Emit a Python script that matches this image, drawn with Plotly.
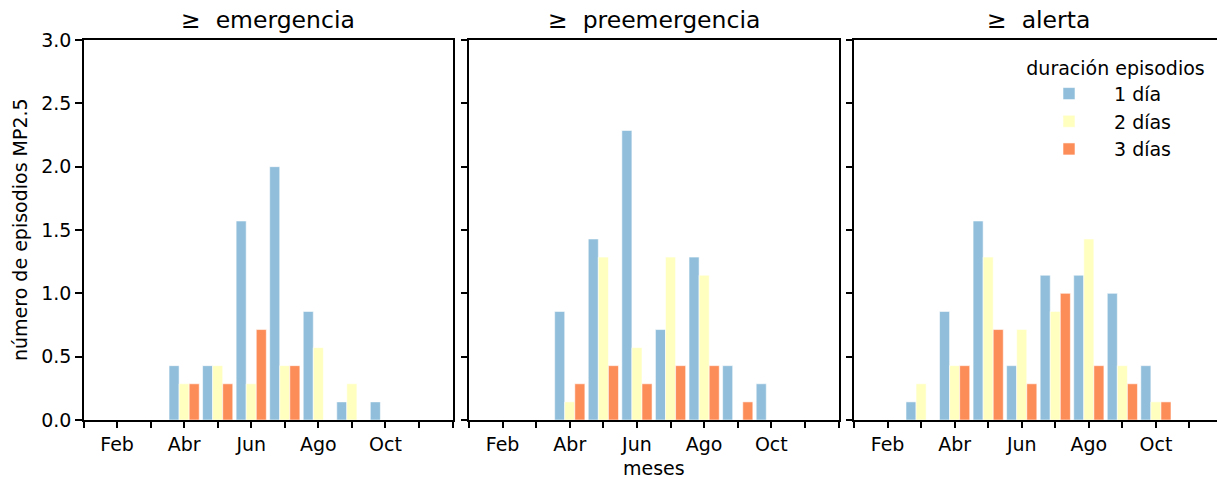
import plotly.graph_objects as go

W, H = 1217, 479

months = [3, 4, 5, 6, 7, 8, 9, 10]
tick_vals = [1, 2, 3, 4, 5, 6, 7, 8, 9, 10, 11, 12]
tick_text = ["", "Feb", "", "Abr", "", "Jun", "", "Ago", "", "Oct", "", ""]
y_tick_vals = [0, 0.5, 1.0, 1.5, 2.0, 2.5, 3.0]
y_tick_text = ["0.0", "0.5", "1.0", "1.5", "2.0", "2.5", "3.0"]

panel_titles = ["≥\u00a0\u00a0emergencia", "≥\u00a0\u00a0preemergencia", "≥\u00a0\u00a0alerta"]
series_names = ["1 día", "2 días", "3 días"]
colors = ["#91bfdb", "#ffffbf", "#fc8d59"]

# emergencia
emerg_1 = [0.0, 0.429, 0.429, 1.571, 2.0, 0.857, 0.143, 0.143]
emerg_2 = [0.0, 0.286, 0.429, 0.286, 0.429, 0.571, 0.286, 0.0]
emerg_3 = [0.0, 0.286, 0.286, 0.714, 0.429, 0.0, 0.0, 0.0]
# preemergencia
pre_1 = [0.0, 0.857, 1.429, 2.286, 0.714, 1.286, 0.429, 0.286]
pre_2 = [0.0, 0.143, 1.286, 0.571, 1.286, 1.143, 0.0, 0.0]
pre_3 = [0.0, 0.286, 0.429, 0.286, 0.429, 0.429, 0.143, 0.0]
# alerta
alert_1 = [0.143, 0.857, 1.571, 0.429, 1.143, 1.143, 1.0, 0.429]
alert_2 = [0.286, 0.429, 1.286, 0.714, 0.857, 1.429, 0.429, 0.143]
alert_3 = [0.0, 0.429, 0.714, 0.286, 1.0, 0.429, 0.286, 0.143]

panels = [
    [emerg_1, emerg_2, emerg_3],
    [pre_1, pre_2, pre_3],
    [alert_1, alert_2, alert_3],
]

FONT = "DejaVu Sans"
FS = 19
TITLE_FS = 23.5

fig = go.Figure()

x_domains = [
    [83.5 / W, 452.5 / W],
    [469.0 / W, 838.5 / W],
    [854.0 / W, 1.0],
]
y_domain = [(H - 420) / H, (H - 40) / H]
px_per_month = (452.5 - 83.5) / 11.0
x_ranges = [
    [1, 12],
    [1, 12],
    [1, 1 + (W - 854.0) / px_per_month],
]

for p, series in enumerate(panels):
    xa = "x" if p == 0 else f"x{p+1}"
    ya = "y" if p == 0 else f"y{p+1}"
    for s, vals in enumerate(series):
        fig.add_trace(go.Bar(
            x=months, y=vals, name=series_names[s],
            marker=dict(color=colors[s], line=dict(color="rgba(255,255,255,0.7)", width=0.8)),
            xaxis=xa, yaxis=ya,
            showlegend=(p == 2),
            legendgroup=series_names[s],
        ))

axis_common = dict(
    showline=True, linecolor="black", linewidth=1.5,
    ticks="outside", ticklen=6.5, tickwidth=1.5, tickcolor="black",
    showgrid=False, zeroline=False, automargin=False,
    tickfont=dict(family=FONT, size=FS, color="black"),
)

layout = dict(
    template="none",
    width=W, height=H,
    margin=dict(l=0, r=0, t=0, b=0, pad=0),
    paper_bgcolor="white", plot_bgcolor="white",
    barmode="group", bargap=0.1, bargroupgap=0.0,
    font=dict(family=FONT, size=FS, color="black"),
)

for p in range(3):
    xk = "xaxis" if p == 0 else f"xaxis{p+1}"
    yk = "yaxis" if p == 0 else f"yaxis{p+1}"
    ya_ref = "y" if p == 0 else f"y{p+1}"
    xa_ref = "x" if p == 0 else f"x{p+1}"
    layout[xk] = dict(
        axis_common, domain=x_domains[p], range=x_ranges[p],
        tickmode="array", tickvals=tick_vals, ticktext=tick_text,
        mirror=True, anchor=ya_ref,
    )
    layout[yk] = dict(
        axis_common, domain=y_domain, range=[0, 3],
        tickmode="array", tickvals=y_tick_vals,
        ticktext=y_tick_text if p == 0 else [""] * len(y_tick_vals),
        mirror=(p < 2), anchor=xa_ref,
    )

fig.update_layout(**layout)

fig.update_layout(
    legend=dict(
        title=dict(text="duración episodios", side="top center",
                   font=dict(family=FONT, size=FS, color="black")),
        font=dict(family=FONT, size=FS, color="black"),
        x=1207 / W, xanchor="right",
        y=(H - 50) / H, yanchor="top",
        bgcolor="rgba(255,255,255,0)", borderwidth=0,
        itemwidth=80,
        tracegroupgap=8, traceorder="normal",
    )
)

annotations = []
for p in range(3):
    cx = (x_domains[p][0] + (x_domains[p][0] + 369.0 / W)) / 2
    annotations.append(dict(
        text=panel_titles[p], x=cx, y=(H - 20) / H, xref="paper", yref="paper",
        xanchor="center", yanchor="middle", showarrow=False,
        font=dict(family=FONT, size=TITLE_FS, color="black"),
    ))
annotations.append(dict(
    text="meses", x=(469 + 838.5) / 2 / W, y=(H - 468) / H, xref="paper", yref="paper",
    xanchor="center", yanchor="middle", showarrow=False,
    font=dict(family=FONT, size=FS, color="black"),
))
annotations.append(dict(
    text="número de episodios MP2.5", x=20 / W, y=(H - 230) / H, xref="paper", yref="paper",
    xanchor="center", yanchor="middle", showarrow=False, textangle=-90,
    font=dict(family=FONT, size=FS, color="black"),
))
fig.update_layout(annotations=annotations)

fig.write_html("out.html")
